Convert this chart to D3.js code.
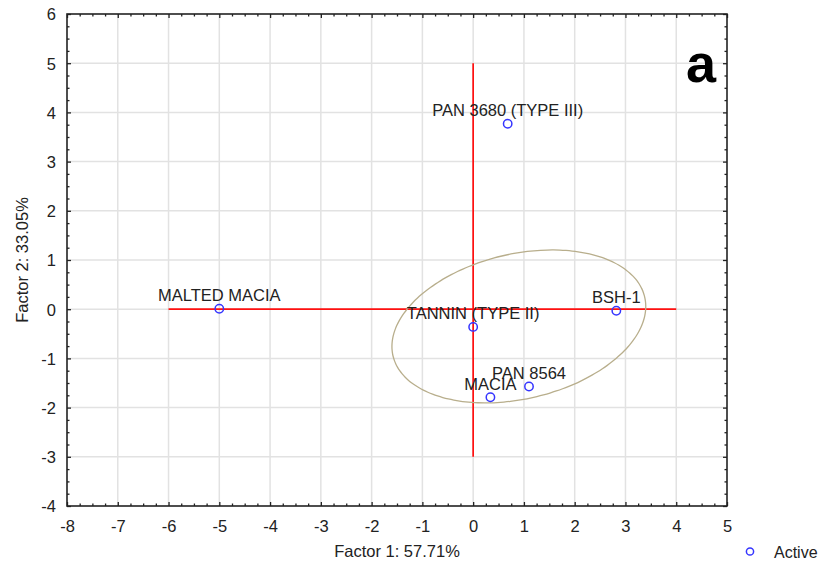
<!DOCTYPE html>
<html>
<head>
<meta charset="utf-8">
<script src="https://cdn.jsdelivr.net/npm/d3@7"></script>
<style>
  body { margin: 0; background: #fff; }
  text { font-family: "Liberation Sans", Arial, sans-serif; }
</style>
</head>
<body>
<div id="chart"></div>
<script>
// points (Factor 1, Factor 2)
const names = ["MALTED MACIA", "PAN 3680 (TYPE III)", "TANNIN (TYPE II)", "BSH-1", "PAN 8564", "MACIA"];
const factor1 = [-5.0, 0.68, 0.0, 2.82, 1.1, 0.34];
const factor2 = [0.01, 3.77, -0.36, -0.03, -1.57, -1.79];

const xTicks = [-8, -7, -6, -5, -4, -3, -2, -1, 0, 1, 2, 3, 4, 5];
const yTicks = [-4, -3, -2, -1, 0, 1, 2, 3, 4, 5, 6];

// red reference lines: [x1, y1, x2, y2]
const refLines = [[-6, 0, 4, 0], [0, -3, 0, 5]];

// ellipse: center x, center y, semi-major, semi-minor, angle (deg)
const ellipse = [0.9, -0.35, 2.55, 1.47, 14];

const margin = { top: 14, right: 98, bottom: 65, left: 67 },
      width = 825 - margin.left - margin.right,
      height = 571 - margin.top - margin.bottom;

const root = d3.select("#chart").append("svg")
    .attr("width", 825)
    .attr("height", 571);

const svg = root.append("g")
    .attr("transform", `translate(${margin.left},${margin.top})`);

const x = d3.scaleLinear().domain([-8, 5]).range([0, width]);
const y = d3.scaleLinear().domain([-4, 6]).range([height, 0]);

// grid
svg.append("g").selectAll("line")
  .data(xTicks.slice(1, -1))
  .join("line")
    .attr("x1", d => x(d)).attr("x2", d => x(d))
    .attr("y1", 0).attr("y2", height)
    .attr("stroke", "#e2e2e2").attr("stroke-width", 1.5);

svg.append("g").selectAll("line")
  .data(yTicks.slice(1, -1))
  .join("line")
    .attr("y1", d => y(d)).attr("y2", d => y(d))
    .attr("x1", 0).attr("x2", width)
    .attr("stroke", "#e2e2e2").attr("stroke-width", 1.5);

// minor ticks at quarter steps
const xMinor = d3.range(-8, 5.001, 0.25).filter(d => Math.abs(d - Math.round(d)) > 0.01);
const yMinor = d3.range(-4, 6.001, 0.25).filter(d => Math.abs(d - Math.round(d)) > 0.01);

const fmt = d => String(d); // plain hyphen minus like the original

// axes (ticks point inward)
function styleAxis(g) {
  g.select(".domain").remove();
  g.selectAll("line").attr("stroke", "#222").attr("stroke-width", 1.3);
}

svg.append("g").attr("transform", `translate(0,${height})`)
  .call(d3.axisBottom(x).tickValues(xTicks).tickSize(-4).tickPadding(14).tickFormat(fmt))
  .call(styleAxis)
  .call(g => g.selectAll("text").attr("font-size", 16.5).attr("fill", "#222"));

svg.append("g").attr("transform", `translate(0,${height})`)
  .call(d3.axisBottom(x).tickValues(xMinor).tickSize(-2.5).tickFormat(""))
  .call(styleAxis);

svg.append("g")
  .call(d3.axisLeft(y).tickValues(yTicks).tickSize(-4).tickPadding(11).tickFormat(fmt))
  .call(styleAxis)
  .call(g => g.selectAll("text").attr("font-size", 16.5).attr("fill", "#222").attr("dy", "0.36em"));

svg.append("g")
  .call(d3.axisLeft(y).tickValues(yMinor).tickSize(-2.5).tickFormat(""))
  .call(styleAxis);

svg.append("g")
  .call(d3.axisTop(x).tickValues(xTicks).tickSize(-4).tickFormat(""))
  .call(styleAxis);
svg.append("g")
  .call(d3.axisTop(x).tickValues(xMinor).tickSize(-2.5).tickFormat(""))
  .call(styleAxis);

svg.append("g").attr("transform", `translate(${width},0)`)
  .call(d3.axisRight(y).tickValues(yTicks).tickSize(-4).tickFormat(""))
  .call(styleAxis);
svg.append("g").attr("transform", `translate(${width},0)`)
  .call(d3.axisRight(y).tickValues(yMinor).tickSize(-2.5).tickFormat(""))
  .call(styleAxis);

// frame
svg.append("rect")
  .attr("width", width).attr("height", height)
  .attr("fill", "none").attr("stroke", "#222").attr("stroke-width", 1.6);

// red reference lines
svg.append("g").selectAll("line")
  .data(refLines)
  .join("line")
    .attr("x1", d => x(d[0])).attr("y1", d => y(d[1]))
    .attr("x2", d => x(d[2])).attr("y2", d => y(d[3]))
    .attr("stroke", "#ff1010").attr("stroke-width", 1.7);

// ellipse
const [ecx, ecy, ea, eb, eang] = ellipse;
const phi = eang * Math.PI / 180;
const ellPts = d3.range(0, 361, 3).map(t => {
  const r = t * Math.PI / 180;
  const dx = ea * Math.cos(r), dy = eb * Math.sin(r);
  return [ecx + dx * Math.cos(phi) - dy * Math.sin(phi),
          ecy + dx * Math.sin(phi) + dy * Math.cos(phi)];
});
svg.append("path")
  .datum(ellPts)
  .attr("d", d3.line().x(d => x(d[0])).y(d => y(d[1])).curve(d3.curveCardinalClosed))
  .attr("fill", "none")
  .attr("stroke", "#b8ae8c")
  .attr("stroke-width", 1.3);

// points + labels
const pts = names.map((n, i) => ({ name: n, f1: factor1[i], f2: factor2[i] }));

svg.append("g").selectAll("text")
  .data(pts)
  .join("text")
    .attr("x", d => x(d.f1))
    .attr("y", d => y(d.f2) - 7.5)
    .attr("text-anchor", "middle")
    .attr("font-size", 16.5)
    .attr("fill", "#222")
    .text(d => d.name);

svg.append("g").selectAll("circle")
  .data(pts)
  .join("circle")
    .attr("cx", d => x(d.f1))
    .attr("cy", d => y(d.f2))
    .attr("r", 4.2)
    .attr("fill", "none")
    .attr("stroke", "#3535ff")
    .attr("stroke-width", 1.5);

// axis titles
root.append("text")
  .attr("x", margin.left + width / 2)
  .attr("y", 557)
  .attr("text-anchor", "middle")
  .attr("font-size", 16.5)
  .attr("fill", "#222")
  .text("Factor 1: 57.71%");

root.append("text")
  .attr("transform", `translate(28,${margin.top + height / 2}) rotate(-90)`)
  .attr("text-anchor", "middle")
  .attr("font-size", 16.5)
  .attr("fill", "#222")
  .text("Factor 2: 33.05%");

// panel letter
root.append("text")
  .attr("x", 701)
  .attr("y", 82)
  .attr("text-anchor", "middle")
  .attr("font-family", "'Open Sans', sans-serif")
  .attr("font-weight", "bold")
  .attr("font-size", 54)
  .attr("fill", "#000")
  .text("a");

// legend
root.append("circle")
  .attr("cx", 750).attr("cy", 551.5).attr("r", 3.6)
  .attr("fill", "none").attr("stroke", "#3535ff").attr("stroke-width", 1.5);
root.append("text")
  .attr("x", 774).attr("y", 557.5)
  .attr("font-size", 16)
  .attr("fill", "#222")
  .text("Active");
</script>
</body>
</html>
